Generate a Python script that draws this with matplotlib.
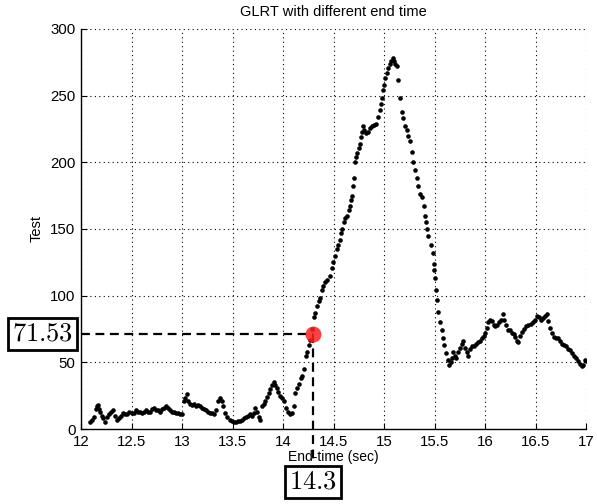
import matplotlib
matplotlib.use("Agg")
import matplotlib.pyplot as plt

plt.rcParams['font.family'] = ['Liberation Sans', 'DejaVu Sans']
plt.rcParams['mathtext.fontset'] = 'cm'

# GLRT test statistic vs end time
end_time = [12.09, 12.11, 12.13, 12.15, 12.16, 12.17, 12.18, 12.19, 12.21, 12.22,
            12.24, 12.26, 12.28, 12.30, 12.32, 12.34, 12.36, 12.38, 12.40, 12.42,
            12.44, 12.46, 12.48, 12.50, 12.52, 12.54, 12.56, 12.58, 12.60, 12.62,
            12.64, 12.66, 12.68, 12.70, 12.72, 12.74, 12.76, 12.78, 12.80, 12.82,
            12.84, 12.86, 12.88, 12.90, 12.92, 12.94, 12.96, 12.98, 13.00, 13.02,
            13.03, 13.05, 13.06, 13.08, 13.10, 13.12, 13.14, 13.16, 13.18, 13.20,
            13.22, 13.24, 13.26, 13.28, 13.30, 13.32, 13.34, 13.36, 13.38, 13.40,
            13.41, 13.43, 13.45, 13.47, 13.49, 13.51, 13.53, 13.55, 13.57, 13.59,
            13.61, 13.63, 13.65, 13.67, 13.69, 13.71, 13.72, 13.74, 13.76, 13.77,
            13.79, 13.81, 13.82, 13.84, 13.86, 13.87, 13.89, 13.91, 13.92, 13.94,
            13.95, 13.97, 13.99, 14.01, 14.03, 14.05, 14.07, 14.09, 14.11, 14.12,
            14.14, 14.16, 14.18, 14.19, 14.21, 14.23, 14.24, 14.26, 14.27, 14.29,
            14.31, 14.32, 14.34, 14.36, 14.37, 14.39, 14.40, 14.42, 14.44, 14.46,
            14.48, 14.49, 14.51, 14.53, 14.54, 14.56, 14.57, 14.58, 14.60, 14.61,
            14.63, 14.65, 14.66, 14.67, 14.68, 14.69, 14.70, 14.71, 14.72, 14.73,
            14.75, 14.76, 14.77, 14.78, 14.79, 14.80, 14.82, 14.84, 14.86, 14.88,
            14.90, 14.92, 14.94, 14.96, 14.97, 14.98, 14.99, 15.00, 15.01, 15.03,
            15.04, 15.06, 15.07, 15.09, 15.10, 15.11, 15.13, 15.14, 15.16, 15.18,
            15.19, 15.21, 15.23, 15.24, 15.26, 15.28, 15.29, 15.31, 15.33, 15.34,
            15.36, 15.38, 15.40, 15.41, 15.42, 15.43, 15.44, 15.46, 15.48, 15.49,
            15.495, 15.50, 15.51, 15.52, 15.53, 15.55, 15.57, 15.58, 15.59, 15.61,
            15.63, 15.64, 15.66, 15.67, 15.68, 15.70, 15.71, 15.73, 15.75, 15.77,
            15.78, 15.80, 15.82, 15.83, 15.85, 15.87, 15.89, 15.91, 15.93, 15.95,
            15.97, 15.99, 16.00, 16.02, 16.03, 16.05, 16.07, 16.09, 16.10, 16.12,
            16.14, 16.16, 16.18, 16.19, 16.21, 16.23, 16.25, 16.27, 16.29, 16.30,
            16.32, 16.33, 16.35, 16.37, 16.39, 16.41, 16.43, 16.45, 16.47, 16.49,
            16.51, 16.53, 16.55, 16.57, 16.59, 16.61, 16.62, 16.64, 16.66, 16.68,
            16.70, 16.72, 16.74, 16.76, 16.78, 16.80, 16.82, 16.84, 16.86, 16.88,
            16.90, 16.92, 16.94, 16.96, 16.97, 16.99, 17.00]
test = [5, 7, 9, 15, 17, 18, 15, 13, 10, 8,
        5, 9, 11, 13, 14, 10, 7, 8, 10, 12,
        11, 11, 13, 12, 12, 14, 13, 13, 12, 13,
        14, 13, 13, 15, 16, 14, 14, 13, 15, 16,
        17, 16, 14, 13, 13, 12, 12, 11, 11, 21,
        23, 26, 21, 19, 18, 19, 17, 18, 17, 16,
        15, 14, 13, 12, 12, 11, 14, 21, 23, 21,
        17, 12, 9, 7, 6, 5, 5, 6, 6, 7,
        8, 9, 10, 11, 10, 12, 16, 13, 9, 7,
        17, 19, 21, 24, 27, 30, 33, 35, 33, 31,
        28, 25, 23, 21, 16, 13, 11, 12, 17, 27,
        31, 34, 38, 40, 45, 55, 58, 63, 67, 75,
        84, 87, 92, 96, 98, 104, 107, 110, 112, 115,
        121, 125, 130, 135, 138, 142, 147, 150, 155, 158,
        160, 164, 167, 172, 175, 182, 188, 200, 204, 207,
        211, 214, 219, 223, 227, 224, 222, 223, 226, 227,
        228, 229, 234, 239, 244, 248, 254, 258, 263, 267,
        271, 274, 276, 278, 276, 274, 272, 262, 248, 238,
        233, 227, 224, 220, 216, 208, 200, 194, 188, 182,
        176, 174, 167, 160, 155, 150, 145, 138, 132, 124,
        119, 113, 104, 97, 88, 80, 74, 68, 63, 57,
        52, 48, 50, 53, 58, 55, 53, 58, 61, 64,
        66, 61, 58, 55, 60, 62, 62, 64, 65, 66,
        68, 70, 72, 76, 80, 82, 81, 78, 77, 78,
        80, 82, 86, 82, 78, 74, 74, 72, 71, 69,
        66, 65, 70, 73, 75, 77, 78, 79, 80, 82,
        85, 84, 82, 83, 85, 86, 81, 76, 72, 69,
        68, 68, 66, 64, 63, 62, 60, 59, 57, 55,
        53, 51, 49, 47, 48, 52, 51]

sel_time = 14.3
sel_value = 71.53

fig = plt.figure(figsize=(5.97, 5.04), dpi=100)
ax = fig.add_axes([0.1357, 0.1488, 0.846, 0.7937])

ax.plot(end_time, test, 'o', color='black', markersize=3.3, markeredgewidth=0)

# selected point and guide lines
ax.plot([12, sel_time], [sel_value, sel_value], color='black', lw=1.6,
        linestyle=(0, (4, 2.5)), clip_on=False, zorder=3)
ax.plot([sel_time, sel_time], [sel_value, -25], color='black', lw=1.6,
        linestyle=(0, (4, 2.5)), clip_on=False, zorder=3)
ax.plot(sel_time, sel_value, 'o', color=(1, 0.12, 0.12), alpha=0.85,
        markersize=11.5, markeredgewidth=0, zorder=4)

box = dict(boxstyle='square,pad=0.15', facecolor='white', edgecolor='black', lw=2)
ax.annotate('$' + str(sel_value) + '$', xy=(12, sel_value), xytext=(-6, 0),
            textcoords='offset points', ha='right', va='center', fontsize=19,
            bbox=box, annotation_clip=False)
ax.annotate('$' + str(sel_time) + '$', xy=(sel_time, 0), xytext=(0, -38),
            textcoords='offset points', ha='center', va='center', fontsize=19,
            bbox=box, annotation_clip=False)

ax.set_xlim(12, 17)
ax.set_ylim(0, 300)
ax.set_xticks([12, 12.5, 13, 13.5, 14, 14.5, 15, 15.5, 16, 16.5, 17])
ax.set_xticklabels(['12', '12.5', '13', '13.5', '14', '14.5', '15', '15.5', '16', '16.5', '17'])
ax.set_yticks([0, 50, 100, 150, 200, 250, 300])
ax.grid(True, color='black', linestyle=(0, (1, 3)), lw=0.8)
ax.spines['top'].set_visible(False)
ax.spines['right'].set_visible(False)
ax.spines['left'].set_linewidth(1.0)
ax.spines['bottom'].set_linewidth(1.0)
ax.tick_params(direction='in', length=4, labelsize=10.8, pad=4)

ax.set_title('GLRT with different end time', fontsize=10.5, pad=9)
ax.set_xlabel('End-time (sec)', fontsize=10, labelpad=1)
ax.set_ylabel('Test', fontsize=10.5, labelpad=5)

fig.savefig('out.png', dpi=100)
